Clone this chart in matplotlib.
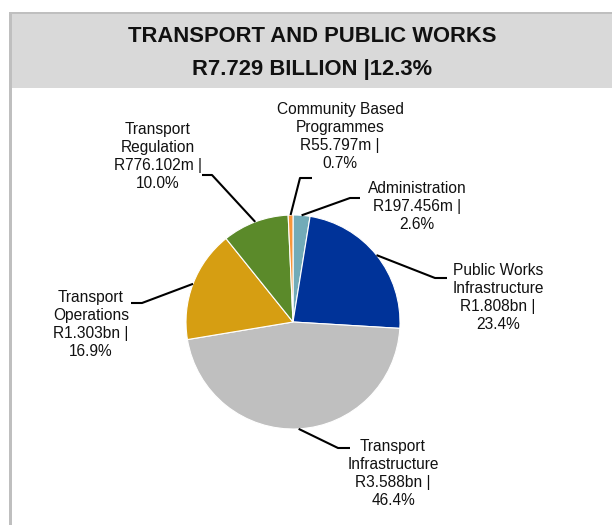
import numpy as np
import matplotlib
matplotlib.use("Agg")
import matplotlib.pyplot as plt
from matplotlib.patches import Rectangle

# data (R million), clockwise from 12 o'clock
programmes = [
    "Administration",
    "Public Works\nInfrastructure",
    "Transport\nInfrastructure",
    "Transport\nOperations",
    "Transport\nRegulation",
    "Community Based\nProgrammes",
]
amounts = [197.456, 1808.0, 3588.0, 1303.0, 776.102, 55.797]
amount_labels = ["R197.456m", "R1.808bn", "R3.588bn", "R1.303bn", "R776.102m", "R55.797m"]
shares = [2.6, 23.4, 46.4, 16.9, 10.0, 0.7]
colors = ["#72ABB8", "#003399", "#BFBFBF", "#D69E12", "#5B8A2A", "#F7963A"]

title_lines = ["TRANSPORT AND PUBLIC WORKS", "R7.729 BILLION |12.3%"]

W, H = 612, 525
fig = plt.figure(figsize=(W / 100, H / 100), dpi=100)
ax = fig.add_axes([0, 0, 1, 1])

# frame + title band (pixel coords, y measured from top)
def py(y):
    return H - y

ax.add_patch(Rectangle((11, py(88)), W - 11, 74, facecolor="#D9D9D9", edgecolor="none"))
ax.add_patch(Rectangle((9, py(14)), W - 9, 2.5, facecolor="#BFBFBF", edgecolor="none"))
ax.add_patch(Rectangle((9, 0), 2.5, py(12), facecolor="#BFBFBF", edgecolor="none"))

ax.text(312, py(37), title_lines[0], ha="center", va="center", fontsize=15.8,
        fontweight="bold", family="Liberation Sans", color="#111111")
ax.text(312, py(70), title_lines[1], ha="center", va="center", fontsize=15.8,
        fontweight="bold", family="Liberation Sans", color="#111111")

cx, cy, r = 293, py(322), 107
wedges, _ = ax.pie(amounts, colors=colors, startangle=90, counterclock=False,
                   center=(cx, cy), radius=r,
                   wedgeprops=dict(edgecolor="white", linewidth=0.8))

# elbow point, end of horizontal, label centre/top (pixels from top)
callouts = [
    ((350, 198), (360, 198), (417, 181)),
    ((435, 278), (447, 278), (498, 263)),
    ((338, 448), (350, 448), (393, 439)),
    ((142, 303), (131, 303), (91, 290)),
    ((212, 175), (202, 175), (158, 122)),
    ((300, 178), (312, 178), (340, 102)),
]

for w, name, amt, pct, (elbow, end, lab) in zip(wedges, programmes, amount_labels, shares, callouts):
    mid = np.deg2rad((w.theta1 + w.theta2) / 2)
    x0 = cx + r * np.cos(mid)
    y0 = cy + r * np.sin(mid)
    ax.plot([x0, elbow[0], end[0]], [y0, py(elbow[1]), py(end[1])],
            color="black", linewidth=1.5, solid_capstyle="butt")
    ax.text(lab[0], py(lab[1]), f"{name}\n{amt} |\n{pct:.1f}%", ha="center", va="top",
            fontsize=11.2, family="Liberation Sans", linespacing=1.25, color="#111111")

ax.set_xlim(0, W)
ax.set_ylim(0, H)
ax.set_aspect("auto")
ax.axis("off")

fig.savefig("out.png", dpi=100)
